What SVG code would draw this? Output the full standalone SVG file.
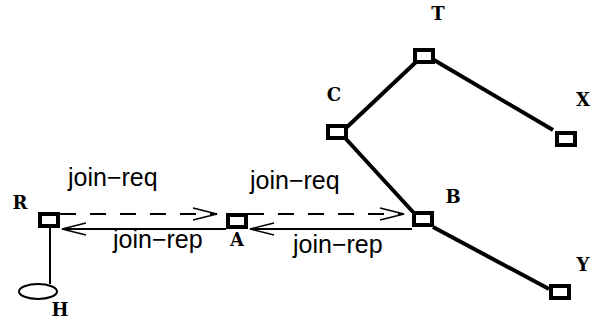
<svg xmlns="http://www.w3.org/2000/svg" width="592" height="320" viewBox="0 0 592 320">
  <style>
    .node { fill: #fff; stroke: #000; stroke-width: 4; }
    .tree { stroke: #000; stroke-width: 4; fill: none; }
    .link { stroke: #000; stroke-width: 2; fill: none; }
    .dash { stroke-dasharray: 16 14; }
    .name { font-family: "DejaVu Serif", "Liberation Serif", serif; font-weight: bold; font-size: 18px; text-anchor: middle; fill: #000; }
    .msg { font-family: "Liberation Sans", Arial, sans-serif; font-size: 25px; fill: #000; }
  </style>
  <defs>
    <marker id="open" markerUnits="userSpaceOnUse" viewBox="-26 -8 28 16" refX="0" refY="0" markerWidth="28" markerHeight="16" orient="auto" overflow="visible">
      <path d="M-24,-6 L0,0 L-24,6" fill="none" stroke="#000" stroke-width="1.6" stroke-dasharray="none"/>
    </marker>
  </defs>
  <rect width="592" height="320" fill="#fff"/>

  <!-- connectors -->
  <g id="connectors">
    <line class="tree" x1="416" y1="62" x2="346" y2="128"/>
    <line class="tree" x1="434" y1="60" x2="553" y2="130"/>
    <line class="tree" x1="346" y1="139" x2="413" y2="212"/>
    <line class="tree" x1="433" y1="227" x2="549" y2="289"/>
    <line class="link" x1="50" y1="228" x2="50" y2="284"/>
    <line class="link dash" x1="60" y1="214" x2="217" y2="214" marker-end="url(#open)"/>
    <line class="link dash" x1="248" y1="214" x2="404" y2="214" marker-end="url(#open)"/>
    <line class="link" x1="412" y1="229" x2="250" y2="229" marker-end="url(#open)"/>
    <line class="link" x1="226" y1="229" x2="62" y2="229" marker-end="url(#open)"/>
    <text class="msg" x="68" y="186">join−req</text>
    <text class="msg" x="250" y="189">join−req</text>
    <text class="msg" x="113" y="248">join−rep</text>
    <text class="msg" x="293" y="253">join−rep</text>
  </g>

  <g id="node-T">
    <rect class="node" x="415" y="50" width="18" height="12"/>
    <text class="name" x="438" y="20">T</text>
  </g>
  <g id="node-C">
    <rect class="node" x="328" y="126" width="18" height="12"/>
    <text class="name" x="334" y="101">C</text>
  </g>
  <g id="node-X">
    <rect class="node" x="557" y="133" width="18" height="12"/>
    <text class="name" x="583" y="106">X</text>
  </g>
  <g id="node-B">
    <rect class="node" x="414" y="213" width="18" height="12"/>
    <text class="name" x="453" y="203">B</text>
  </g>
  <g id="node-Y">
    <rect class="node" x="551" y="286" width="18" height="12"/>
    <text class="name" x="583" y="271">Y</text>
  </g>
  <g id="node-A">
    <rect class="node" x="228" y="215" width="18" height="12"/>
    <text class="name" x="237" y="246">A</text>
  </g>
  <g id="node-R">
    <rect class="node" x="40" y="214" width="18" height="12"/>
    <text class="name" x="20" y="209">R</text>
  </g>
  <g id="node-H">
    <ellipse cx="38" cy="291.5" rx="19" ry="7.5" fill="#fff" stroke="#000" stroke-width="2"/>
    <text class="name" x="60" y="316">H</text>
  </g>
</svg>
